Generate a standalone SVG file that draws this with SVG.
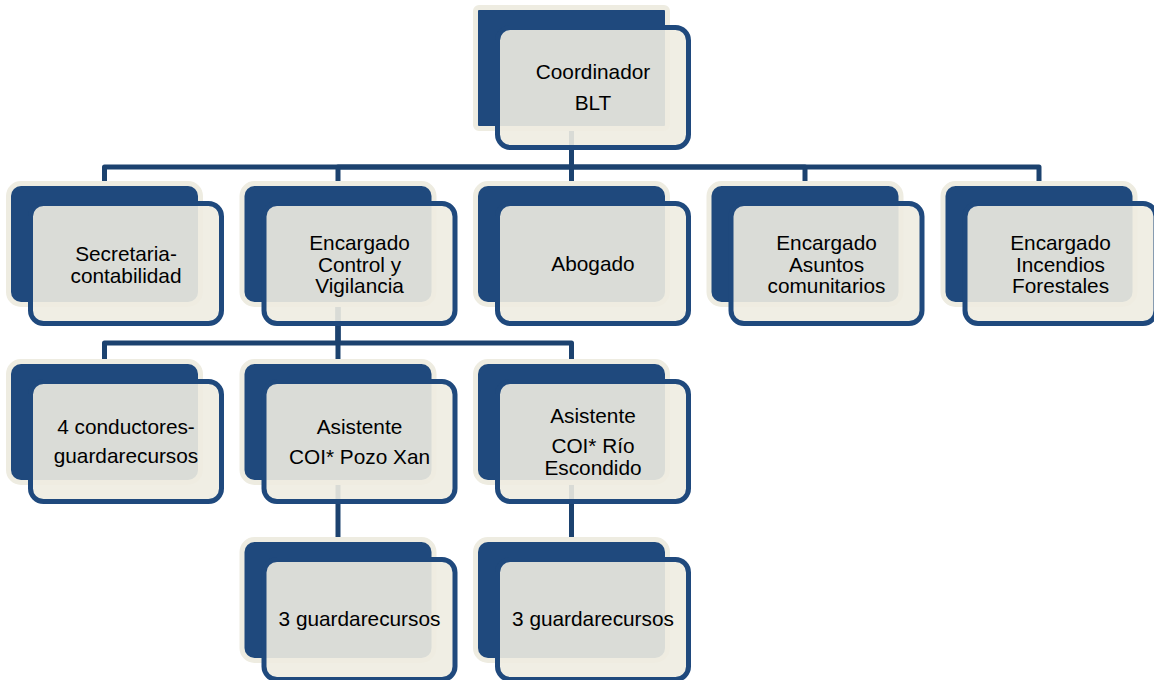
<svg xmlns="http://www.w3.org/2000/svg" width="1154" height="680" viewBox="0 0 1154 680">
<style>
.back{fill:#1F497D;stroke:#EEECE1;stroke-width:10;paint-order:stroke}
.front{fill:#EEECE1;fill-opacity:.9;stroke:#1F497D;stroke-width:5}
.conn{fill:none;stroke:#1C426F;stroke-width:5;stroke-linejoin:round}
text{font-family:"Liberation Sans",Arial,sans-serif;font-size:20.8px;fill:#000;text-anchor:middle}
</style>
<rect width="1154" height="680" fill="#fff"/>
<g id="connectors" class="conn">
<path d="M571.5 126V167H104.5V186"/>
<path d="M571.5 126V167H338V186"/>
<path d="M571.5 126V186"/>
<path d="M571.5 126V167H805V186"/>
<path d="M571.5 126V167H1039V186"/>
<path d="M338 302V343H104.5V364"/>
<path d="M338 302V364"/>
<path d="M338 302V343H571.5V364"/>
<path d="M338 479V542"/>
<path d="M571.5 479V542"/>
</g>
<g id="coordinador">
<rect class="back" x="478" y="10" width="187" height="116" rx="1"/>
<rect class="front" x="497.5" y="27.5" width="191" height="120" rx="13"/>
<text x="593" y="79">Coordinador</text>
<text x="593" y="110">BLT</text>
</g>
<g id="secretaria">
<rect class="back" x="11" y="186" width="187" height="116" rx="10"/>
<rect class="front" x="30.5" y="203.5" width="191" height="120" rx="13"/>
<text x="126" y="261">Secretaria-</text>
<text x="126" y="283">contabilidad</text>
</g>
<g id="control">
<rect class="back" x="244.5" y="186" width="187" height="116" rx="10"/>
<rect class="front" x="264" y="203.5" width="191" height="120" rx="13"/>
<text x="359.5" y="250">Encargado</text>
<text x="359.5" y="271.5">Control y</text>
<text x="359.5" y="293">Vigilancia</text>
</g>
<g id="abogado">
<rect class="back" x="478" y="186" width="187" height="116" rx="10"/>
<rect class="front" x="497.5" y="203.5" width="191" height="120" rx="13"/>
<text x="593" y="271">Abogado</text>
</g>
<g id="asuntos">
<rect class="back" x="711.5" y="186" width="187" height="116" rx="10"/>
<rect class="front" x="731" y="203.5" width="191" height="120" rx="13"/>
<text x="826.5" y="250">Encargado</text>
<text x="826.5" y="271.5">Asuntos</text>
<text x="826.5" y="293">comunitarios</text>
</g>
<g id="incendios">
<rect class="back" x="945.5" y="186" width="187" height="116" rx="10"/>
<rect class="front" x="965" y="203.5" width="191" height="120" rx="13"/>
<text x="1060.5" y="250">Encargado</text>
<text x="1060.5" y="271.5">Incendios</text>
<text x="1060.5" y="293">Forestales</text>
</g>
<g id="conductores">
<rect class="back" x="11" y="364" width="187" height="116" rx="10"/>
<rect class="front" x="30.5" y="381.5" width="191" height="120" rx="13"/>
<text x="126" y="434">4 conductores-</text>
<text x="126" y="463">guardarecursos</text>
</g>
<g id="pozoxan">
<rect class="back" x="244.5" y="364" width="187" height="116" rx="10"/>
<rect class="front" x="264" y="381.5" width="191" height="120" rx="13"/>
<text x="359.5" y="434">Asistente</text>
<text x="359.5" y="464">COI* Pozo Xan</text>
</g>
<g id="rioescondido">
<rect class="back" x="478" y="364" width="187" height="116" rx="10"/>
<rect class="front" x="497.5" y="381.5" width="191" height="120" rx="13"/>
<text x="593" y="423">Asistente</text>
<text x="593" y="453">COI* Río</text>
<text x="593" y="475">Escondido</text>
</g>
<g id="guardarecursos-pozoxan">
<rect class="back" x="244.5" y="542" width="187" height="116" rx="10"/>
<rect class="front" x="264" y="559.5" width="191" height="120" rx="13"/>
<text x="359.5" y="626">3 guardarecursos</text>
</g>
<g id="guardarecursos-rioescondido">
<rect class="back" x="478" y="542" width="187" height="116" rx="10"/>
<rect class="front" x="497.5" y="559.5" width="191" height="120" rx="13"/>
<text x="593" y="626">3 guardarecursos</text>
</g>
</svg>
